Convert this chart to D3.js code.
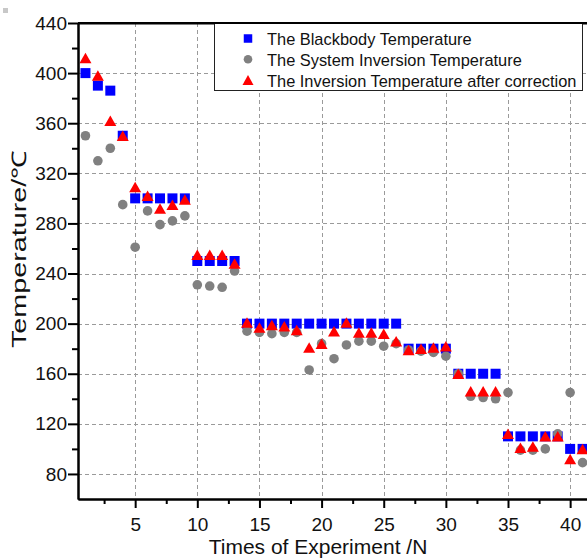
<!DOCTYPE html>
<html>
<head>
<meta charset="utf-8">
<script src="https://cdn.jsdelivr.net/npm/d3@7"></script>
<style>
    body { margin: 0; background: #fff; }
    svg { display: block; font-family: "Liberation Sans", Arial, sans-serif; }
</style>
</head>
<body>
<div id="chart"></div>
<script>
// experiment index
const experiments = [1, 2, 3, 4, 5, 6, 7, 8, 9, 10, 11, 12, 13, 14, 15, 16, 17, 18, 19, 20,
    21, 22, 23, 24, 25, 26, 27, 28, 29, 30, 31, 32, 33, 34, 35, 36, 37, 38, 39, 40, 41];

const blackbody = [400, 390, 386, 350, 300, 300, 300, 300, 300, 250, 250, 250, 250, 200, 200, 200, 200, 200, 200, 200,
    200, 200, 200, 200, 200, 200, 180, 180, 180, 180, 160, 160, 160, 160, 110, 110, 110, 110, 110, 100, 100];

const systemInversion = [350, 330, 340, 295, 261, 290, 279, 282, 286, 231, 230, 229, 242, 194, 193, 192, 193, 193, 163, 184,
    172, 183, 186, 186, 182, 184, 179, 178, 177, 174, 160, 142, 141, 140, 145, 99, 99, 100, 112, 145, 89];

const corrected = [412, 398, 362, 350, 309, 302, 292, 295, 299, 255, 255, 255, 248, 201, 197, 199, 198, 195, 181, 184,
    194, 201, 193, 193, 192, 186, 179, 180, 181, 182, 160, 146, 146, 146, 112, 101, 102, 110, 110, 92, 100];

const yTicks = [80, 120, 160, 200, 240, 280, 320, 360, 400, 440];
const yMinorTicks = [100, 140, 180, 220, 260, 300, 340, 380, 420];
const xTicks = [5, 10, 15, 20, 25, 30, 35, 40];
const xMinorTicks = [2.5, 7.5, 12.5, 17.5, 22.5, 27.5, 32.5, 37.5];

const seriesNames = [
    "The Blackbody Temperature",
    "The System Inversion Temperature",
    "The Inversion Temperature after correction"
];

const width = 587, height = 558;

const svg = d3.select("#chart").append("svg")
    .attr("width", width)
    .attr("height", height);

const xScale = d3.scaleLinear().domain([0.4, 42]).range([78, 595]);
const yScale = d3.scaleLinear().domain([60, 440]).range([499, 23]);

// little grey speck in the corner of the original
svg.append("rect").attr("x", 3).attr("y", 8).attr("width", 5).attr("height", 5).attr("fill", "#c8c8c8");

// grid
const grid = svg.append("g").attr("stroke", "#9a9a9a").attr("stroke-width", 1).attr("stroke-dasharray", "4,3");
grid.selectAll(".gx")
    .data(xTicks)
    .join("line")
    .attr("class", "gx")
    .attr("x1", d => Math.round(xScale(d)) + 0.5)
    .attr("x2", d => Math.round(xScale(d)) + 0.5)
    .attr("y1", yScale.range()[1])
    .attr("y2", yScale.range()[0]);
grid.selectAll(".gy")
    .data(yTicks.filter(d => d < 440))
    .join("line")
    .attr("class", "gy")
    .attr("x1", xScale.range()[0])
    .attr("x2", xScale.range()[1])
    .attr("y1", d => Math.round(yScale(d)) + 0.5)
    .attr("y2", d => Math.round(yScale(d)) + 0.5);

// markers
const square = s => `M${-s / 2},${-s / 2}h${s}v${s}h${-s}Z`;
const triangle = (w, h) => `M0,${-h / 2}L${w / 2},${h / 2}L${-w / 2},${h / 2}Z`;

const marks = svg.append("g");

marks.selectAll(".bb")
    .data(experiments)
    .join("path")
    .attr("class", "bb")
    .attr("d", square(10))
    .attr("transform", (d, i) => `translate(${xScale(d)},${yScale(blackbody[i])})`)
    .attr("fill", "#0000ff");

marks.selectAll(".sys")
    .data(experiments)
    .join("circle")
    .attr("class", "sys")
    .attr("cx", d => xScale(d))
    .attr("cy", (d, i) => yScale(systemInversion[i]))
    .attr("r", 4.8)
    .attr("fill", "#808080");

marks.selectAll(".cor")
    .data(experiments)
    .join("path")
    .attr("class", "cor")
    .attr("d", triangle(12, 10.5))
    .attr("transform", (d, i) => `translate(${xScale(d)},${yScale(corrected[i])})`)
    .attr("fill", "#ff0000");

// axes
const yAxis = d3.axisLeft(yScale).tickValues(yTicks).tickSize(10).tickPadding(1).tickSizeOuter(0);
const yMinor = d3.axisLeft(yScale).tickValues(yMinorTicks).tickSize(6).tickFormat("").tickSizeOuter(0);
const xAxis = d3.axisBottom(xScale).tickValues(xTicks).tickSize(9).tickPadding(10).tickSizeOuter(0);
const xMinor = d3.axisBottom(xScale).tickValues(xMinorTicks).tickSize(5).tickFormat("").tickSizeOuter(0);
const xTop = d3.axisTop(xScale).tickValues([]).tickSizeOuter(0);

svg.append("g").attr("class", "axis").attr("transform", "translate(78,0)").call(yAxis);
svg.append("g").attr("class", "axis").attr("transform", "translate(78,0)").call(yMinor);
svg.append("g").attr("class", "axis").attr("transform", "translate(0,499)").call(xAxis);
svg.append("g").attr("class", "axis").attr("transform", "translate(0,499)").call(xMinor);
svg.append("g").attr("class", "axis").attr("transform", "translate(0,23)").call(xTop);

svg.selectAll(".axis path, .axis line").attr("stroke", "#000").attr("stroke-width", 2);
svg.selectAll(".axis text")
    .attr("fill", "#111")
    .style("font-size", "19px")
    .style("font-family", "\"Liberation Sans\", Arial, sans-serif");

// axis titles
svg.append("text")
    .attr("x", 318)
    .attr("y", 554)
    .attr("text-anchor", "middle")
    .attr("fill", "#111")
    .style("font-size", "21px")
    .text("Times of Experiment /N");

svg.append("text")
    .attr("transform", "translate(26,249) rotate(-90)")
    .attr("text-anchor", "middle")
    .attr("fill", "#111")
    .attr("textLength", 198)
    .attr("lengthAdjust", "spacingAndGlyphs")
    .style("font-size", "20px")
    .text("Temperature/℃");

// legend
const legend = svg.append("g");
legend.append("rect")
    .attr("x", 214.5)
    .attr("y", 22.5)
    .attr("width", 368)
    .attr("height", 68)
    .attr("fill", "#fff")
    .attr("stroke", "#222")
    .attr("stroke-width", 1);

const rows = legend.selectAll(".row")
    .data(seriesNames)
    .join("g")
    .attr("class", "row")
    .attr("transform", (_, i) => `translate(248,${38.5 + i * 20.8})`);

rows.each(function (_, i) {
    const g = d3.select(this);
    if (i === 0) g.append("path").attr("d", square(8.5)).attr("fill", "#0000ff");
    if (i === 1) g.append("circle").attr("r", 4.3).attr("fill", "#808080");
    if (i === 2) g.append("path").attr("d", triangle(11, 10)).attr("fill", "#ff0000");
});

rows.append("text")
    .attr("x", 19)
    .attr("y", 6.5)
    .attr("fill", "#111")
    .style("font-size", "16.4px")
    .text(d => d);

// top border over the legend edge
svg.append("line")
    .attr("x1", 78).attr("x2", width)
    .attr("y1", 23).attr("y2", 23)
    .attr("stroke", "#000").attr("stroke-width", 2);
</script>
</body>
</html>
